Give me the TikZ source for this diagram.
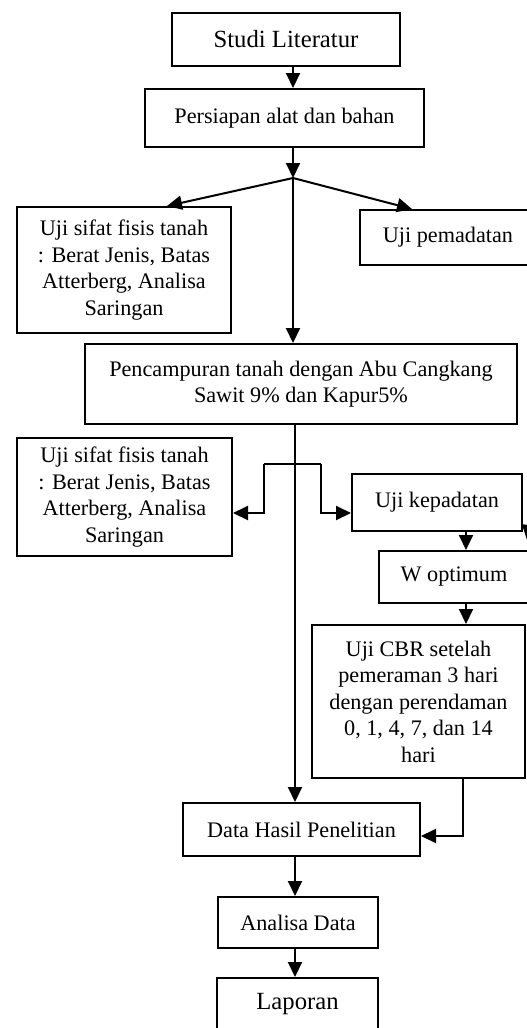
\documentclass[tikz,border=0pt]{standalone}
\usepackage{fontspec}
\setmainfont{Liberation Serif}
\usetikzlibrary{arrows.meta}

\begin{document}
\begin{tikzpicture}[x=1pt, y=-1pt,
		line width = 2pt,
		box/.style={draw, align=center, inner sep=0pt, font=\fontsize{22.2}{26.5}\selectfont},
		bigbox/.style={box, font=\fontsize{24.7}{29}\selectfont},
		arr/.style={-{Triangle[length=15pt,width=14pt]}}]

	\useasboundingbox (0,0) rectangle (527,1028);
	\clip (0,0) rectangle (527,1028);

	% main column
	\node [bigbox, minimum width=228, minimum height=53] (studi) at (286,39.5) {Studi Literatur};
	\node [box, minimum width=279, minimum height=58] (persiapan) at (284.5,118) {Persiapan alat dan bahan};
	\node [box, minimum width=214, minimum height=126] (fisis1) at (124,270) {Uji sifat fisis tanah\\: Berat Jenis, Batas\\Atterberg, Analisa\\Saringan};
	\node [box, minimum width=176, minimum height=55] (pemadatan) at (448,237.5) {Uji pemadatan};
	\node [box, minimum width=432, minimum height=80] (pencampuran) at (301,384) {Pencampuran tanah dengan Abu Cangkang\\Sawit 9\% dan Kapur5\%};

	% after mixing
	\node [box, minimum width=215, minimum height=118] (fisis2) at (124.5,497) {Uji sifat fisis tanah\\: Berat Jenis, Batas\\Atterberg, Analisa\\Saringan};
	\node [box, minimum width=170, minimum height=57] (kepadatan) at (437,502.5) {Uji kepadatan};
	\node [box, minimum width=150, minimum height=52] (wopt) at (454,577) {W optimum};
	\node [box, minimum width=213, minimum height=153] (cbr) at (418.5,701.5) {Uji CBR setelah\\pemeraman 3 hari\\dengan perendaman\\0, 1, 4, 7, dan 14\\hari};

	% results
	\node [box, minimum width=237, minimum height=53] (datahasil) at (301.5,829.5) {Data Hasil Penelitian};
	\node [box, minimum width=160, minimum height=51] (analisa) at (298,922.5) {Analisa Data};
	\node [bigbox, minimum width=161, minimum height=52] (laporan) at (297.5,1004) {Laporan};

	% connectors
	\coordinate (fork) at (293,178);
	\draw [arr] (studi.south -| fork) -- (persiapan.north -| fork);
	\draw [arr] (persiapan.south -| fork) -- (fork);
	\draw [arr] (fork) -- ([xshift=43]fisis1.north);
	\draw [arr] (fork) -- ([xshift=-36]pemadatan.north);
	\draw [arr] (fork) -- (pencampuran.north -| fork);

	\coordinate (trunk) at (295,464);
	\coordinate (splitL) at (264,464);
	\coordinate (splitR) at (321,464);
	\coordinate (tap) at (0,513);
	\draw [arr] (pencampuran.south -| trunk) -- (datahasil.north -| trunk);
	\draw (splitL) -- (splitR);
	\draw [arr] (splitL) |- (fisis2.east |- tap);
	\draw [arr] (splitR) |- (kepadatan.west |- tap);

	\coordinate (chain) at (466,0);
	\draw [arr] (kepadatan.south -| chain) -- (wopt.north -| chain);
	\draw [arr] (wopt.south -| chain) -- (cbr.north -| chain);
	\coordinate (back) at (463,836);
	\draw [arr] (cbr.south -| back) |- (datahasil.east |- back);
	\draw [arr] (datahasil.south -| trunk) -- (analisa.north -| trunk);
	\draw [arr] (analisa.south -| trunk) -- (laporan.north -| trunk);

	% arrow coming in from beyond the right edge
	\coordinate (offpage) at (534,490);
	\coordinate (edgetip) at (527,540);
	\draw [arr] (offpage) -- (edgetip);

\end{tikzpicture}
\end{document}
